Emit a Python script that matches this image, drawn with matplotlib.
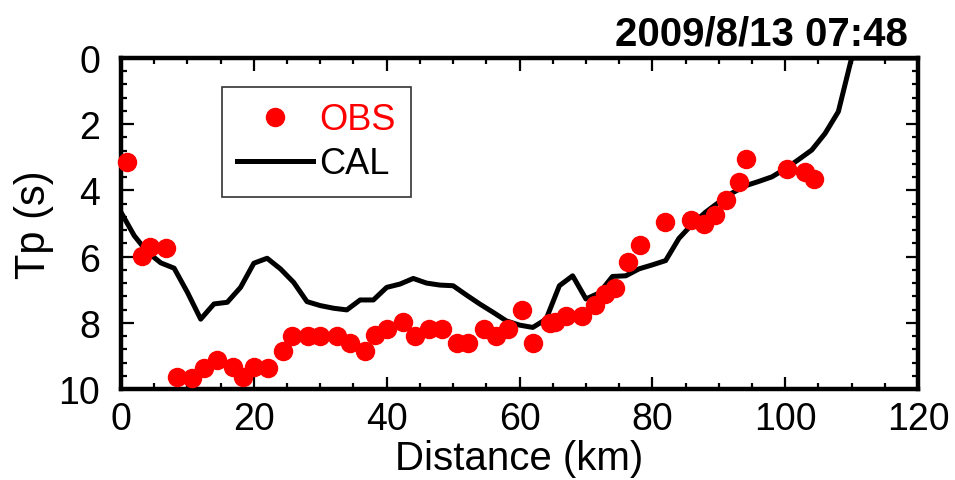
import numpy as np
import matplotlib
matplotlib.use("Agg")
import matplotlib.pyplot as plt
from matplotlib.ticker import MultipleLocator

plt.rcParams['font.family'] = ['Liberation Sans', 'DejaVu Sans']

# observed Tp (red dots)
obs_km = [0.9, 3.1, 4.3, 6.7, 8.5, 10.7, 12.5, 14.4, 16.8, 18.4, 20.0, 22.2,
          24.4, 25.8, 28.2, 30.0, 32.5, 34.5, 36.7, 38.3, 40.0, 42.5, 44.3,
          46.4, 48.3, 50.6, 52.3, 54.6, 56.4, 58.2, 60.4, 62.1, 64.6, 65.4,
          67.0, 69.4, 71.3, 72.9, 74.4, 76.4, 78.2, 81.9, 85.8, 87.7, 89.5,
          91.1, 93.0, 94.1, 100.2, 103.0, 104.4]
obs_tp = [3.15, 5.97, 5.72, 5.74, 9.65, 9.67, 9.38, 9.11, 9.35, 9.65, 9.35, 9.37,
          8.84, 8.39, 8.39, 8.39, 8.39, 8.61, 8.86, 8.37, 8.19, 7.99, 8.39,
          8.19, 8.19, 8.61, 8.61, 8.19, 8.39, 8.19, 7.60, 8.61, 8.01, 7.99,
          7.80, 7.80, 7.45, 7.13, 6.96, 6.17, 5.64, 4.95, 4.88, 5.02, 4.74,
          4.29, 3.76, 3.05, 3.35, 3.45, 3.66]

# calculated Tp (black line)
cal_km = [0, 2, 4, 6, 8, 10, 12, 14, 16, 18, 20, 22, 24, 26, 28, 30, 32, 34,
          36, 38, 40, 42, 44, 46, 48, 50, 52, 54, 56, 58, 60, 62, 64, 66, 68,
          70, 72, 74, 76, 78, 80, 82, 84, 86, 88, 90, 92, 94, 96, 98, 100, 102,
          104, 106, 108, 110, 112, 114, 116, 118, 120]
cal_tp = [4.66, 5.37, 5.87, 6.19, 6.35, 7.08, 7.89, 7.43, 7.38, 6.93, 6.20, 6.05,
          6.37, 6.78, 7.36, 7.48, 7.56, 7.61, 7.31, 7.31, 6.93, 6.83, 6.66, 6.80,
          6.86, 6.88, 7.16, 7.43, 7.68, 7.94, 8.07, 8.14, 7.89, 6.88, 6.58, 7.28,
          7.10, 6.60, 6.58, 6.37, 6.25, 6.12, 5.45, 5.02, 4.66, 4.36, 4.08, 3.86,
          3.73, 3.59, 3.35, 3.07, 2.78, 2.28, 1.62, 0.0, 0.0, 0.0, 0.0, 0.0, 0.0]

fig = plt.figure(figsize=(9.55, 4.81), dpi=100)
ax = fig.add_axes([0.1267, 0.1892, 0.8346, 0.6881])

ax.plot(obs_km, obs_tp, 'o', color='#ff0000', markersize=13, label='OBS',
        zorder=3, clip_on=False)
ax.plot(cal_km, cal_tp, '-', color='black', linewidth=3.6, label='CAL', zorder=2)

ax.set_xlim(0, 120)
ax.set_ylim(10, 0)
ax.xaxis.set_major_locator(MultipleLocator(20))
ax.xaxis.set_minor_locator(MultipleLocator(5))
ax.yaxis.set_major_locator(MultipleLocator(2))
ax.yaxis.set_minor_locator(MultipleLocator(0.4))

for s in ax.spines.values():
    s.set_linewidth(3.2)
ax.tick_params(which='both', direction='in', top=True, right=True, width=1.6,
               labelsize=27)
ax.tick_params(axis='x', which='major', pad=9)
ax.tick_params(axis='y', which='major', pad=15)
ax.tick_params(which='major', length=9)
ax.tick_params(which='minor', length=4.5)

ax.set_xlabel('Distance (km)', fontsize=29, labelpad=1)
ax.set_ylabel('Tp (s)', fontsize=30, labelpad=3)

fig.text(0.951, 0.905, '2009/8/13 07:48', fontsize=29, fontweight='bold',
         ha='right', va='baseline')

leg = ax.legend(loc='upper left', bbox_to_anchor=(0.127, 0.912), fontsize=26,
                numpoints=1, handlelength=2.1, handletextpad=0.17,
                borderpad=0.42, labelspacing=0.25, borderaxespad=0,
                fancybox=False, framealpha=1, edgecolor='#333333')
leg.get_frame().set_linewidth(1.2)
leg.get_texts()[0].set_color('#ff0000')

fig.savefig('out.png', dpi=100)
